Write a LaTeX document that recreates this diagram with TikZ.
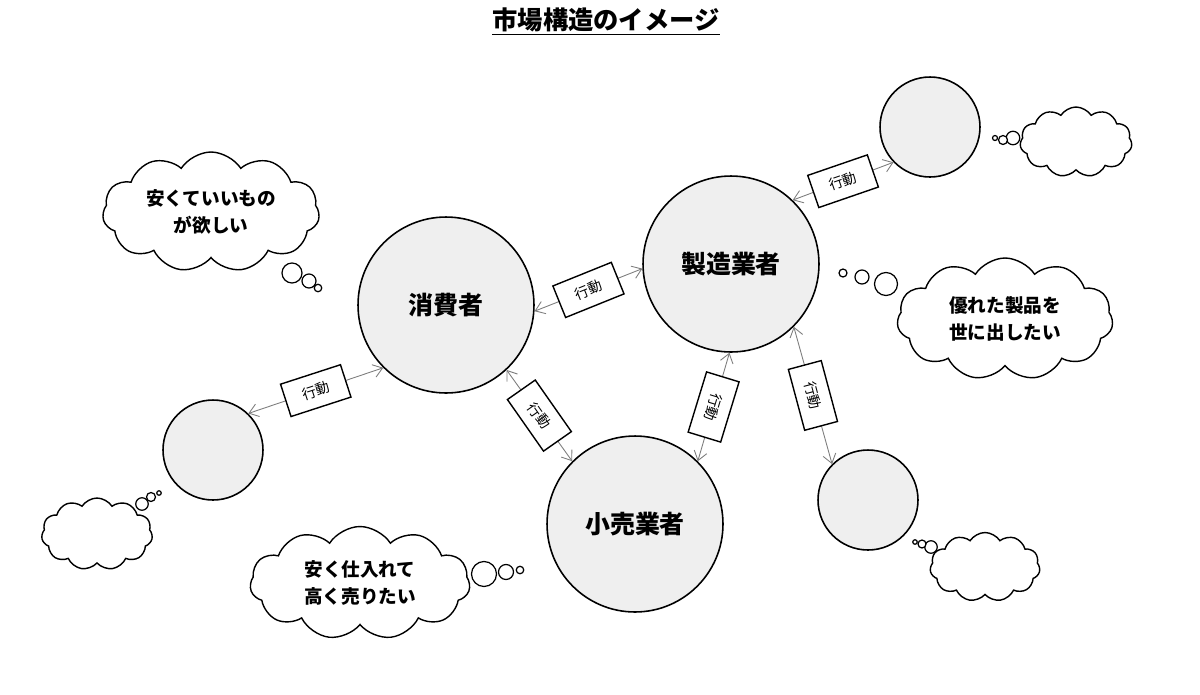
\documentclass[tikz,border=0pt]{standalone}
\usepackage{fontspec}
\setmainfont{Noto Sans CJK JP}
\usetikzlibrary{shapes.symbols,arrows.meta}
\definecolor{discfill}{RGB}{239,239,239}
\definecolor{actgray}{RGB}{125,125,125}

\begin{document}
\begin{tikzpicture}
[x=0.02cm, y=-0.02cm, font=\fontsize{10.8}{15.2}\selectfont]
\tikzstyle{player}=[circle, draw, line width=0.9pt, fill=discfill, inner sep=0mm, minimum size=3.52cm, font=\fontsize{14.2}{17}\bfseries]
\tikzstyle{other}=[circle, draw, line width=0.9pt, fill=discfill, inner sep=0mm, minimum size=2cm]
\tikzstyle{act}=[actgray, line width=0.5pt, {Straight Barb[length=1.8mm,width=2.6mm]}-{Straight Barb[length=1.8mm,width=2.6mm]}]
\tikzstyle{actbox}=[draw=black, line width=0.8pt, fill=white, text=black, minimum width=1.26cm, minimum height=0.68cm, inner sep=0mm, font=\fontsize{8}{9}\selectfont]
\tikzstyle{thought}=[cloud, cloud puffs=11, cloud puff arc=115, cloud ignores aspect, draw, line width=0.8pt, fill=white, inner sep=0mm, align=center, font=\fontsize{10.6}{15.2}\bfseries]
\tikzstyle{bubble}=[circle, draw, line width=0.7pt, fill=white, inner sep=0mm]

\useasboundingbox (0,0) rectangle (1200,694);

\node (title) at (606,22) {\fontsize{14.4}{17}\bfseries\underline{市場構造のイメージ}};

% main players
\node[player]	(C)	at (446,305)	{消費者};
\node[player]	(M)	at (731,264)	{製造業者};
\node[player]	(R)	at (635,524)	{小売業者};

% other actors
\node[other]	(TR)	at (930,127)	{};
\node[other]	(L)	at (213,450)	{};
\node[other]	(BR)	at (868,500)	{};

% actions
\draw[act]	(C.-4) -- (M.183)	node[actbox, midway, rotate=22]	(A1) {行動};
\draw[act]	(L.46) -- (C.225)	node[actbox, midway, rotate=18]	(A2) {行動};
\draw[act]	(C.-47) -- (R.135)	node[actbox, midway, rotate=-55]	(A3) {行動};
\draw[act]	(M.-91) -- (R.45)	node[actbox, midway, rotate=-107]	(A4) {行動};
\draw[act]	(M.-45) -- (BR.135)	node[actbox, midway, rotate=-75]	(A5) {行動};
\draw[act]	(M.46) -- (TR.224)	node[actbox, midway, rotate=19]	(A6) {行動};

% thoughts
\node[thought, minimum width=4.34cm, minimum height=2.4cm]	(TC)	at (211,212)	{安くていいもの\\が欲しい};
\node[bubble, minimum size=0.4cm]	(TC1)	at (292,273) {};
\node[bubble, minimum size=0.28cm]	(TC2)	at (309,281) {};
\node[bubble, minimum size=0.15cm]	(TC3)	at (318,288) {};

\node[thought, minimum width=4.4cm, minimum height=2.26cm]	(TR0)	at (360,583)	{安く仕入れて\\高く売りたい};
\node[bubble, minimum size=0.5cm]	(TR1)	at (484,574) {};
\node[bubble, minimum size=0.3cm]	(TR2)	at (506,572) {};
\node[bubble, minimum size=0.15cm]	(TR3)	at (520,570) {};

\node[thought, minimum width=4.32cm, minimum height=2.44cm]	(TM)	at (1005,319)	{優れた製品を\\世に出したい};
\node[bubble, minimum size=0.46cm]	(TM1)	at (886,284) {};
\node[bubble, minimum size=0.28cm]	(TM2)	at (862,277) {};
\node[bubble, minimum size=0.16cm]	(TM3)	at (843,273) {};

\node[thought, minimum width=2.24cm, minimum height=1.4cm]	(TTR)	at (1076,142)	{};
\node[bubble, minimum size=0.27cm]	(TTR1)	at (1013,138) {};
\node[bubble, minimum size=0.18cm]	(TTR2)	at (1003,140) {};
\node[bubble, minimum size=0.1cm]	(TTR3)	at (995,138) {};

\node[thought, minimum width=2.22cm, minimum height=1.44cm]	(TL)	at (97,534)	{};
\node[bubble, minimum size=0.25cm]	(TL1)	at (142,504) {};
\node[bubble, minimum size=0.18cm]	(TL2)	at (151,497) {};
\node[bubble, minimum size=0.09cm]	(TL3)	at (159,493) {};

\node[thought, minimum width=2.2cm, minimum height=1.38cm]	(TBR)	at (985,567)	{};
\node[bubble, minimum size=0.25cm]	(TBR1)	at (931,547) {};
\node[bubble, minimum size=0.16cm]	(TBR2)	at (922,544) {};
\node[bubble, minimum size=0.09cm]	(TBR3)	at (915,542) {};

\end{tikzpicture}
\end{document}
